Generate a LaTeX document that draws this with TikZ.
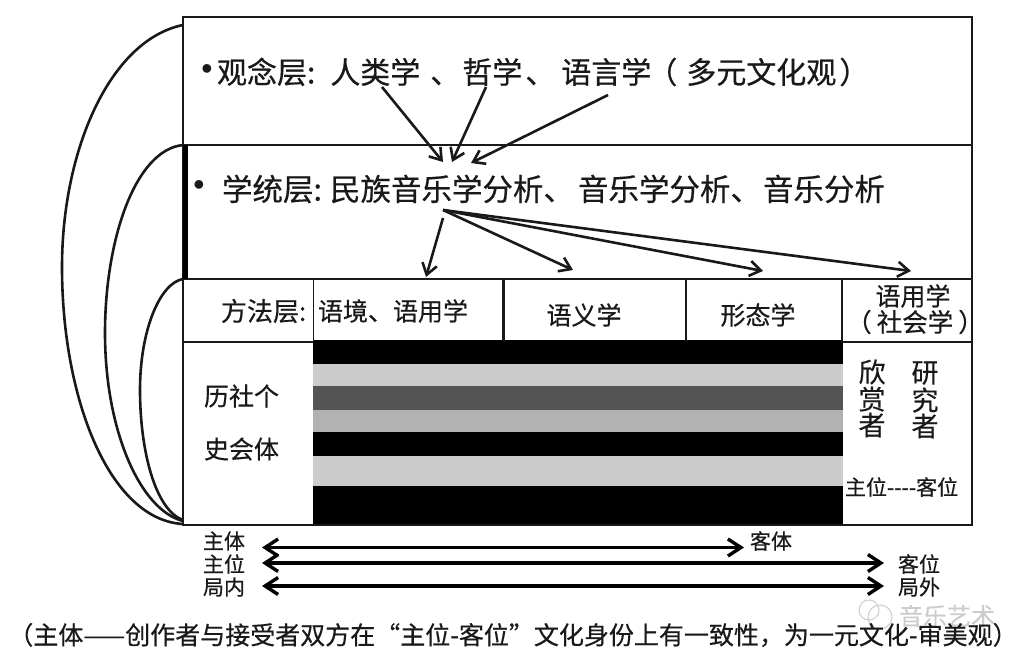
\documentclass[tikz,border=0pt]{standalone}
\usepackage{fontspec}
\usetikzlibrary{arrows.meta}
\setmainfont{Noto Sans CJK SC}[RawFeature={embolden=0.5}]
\newfontfamily\bulletfont{Liberation Sans}
\definecolor{stripelight}{gray}{0.80}
\definecolor{stripedark}{gray}{0.33}
\definecolor{stripemid}{gray}{0.70}
\definecolor{markgray}{gray}{0.80}
\newcommand{\fs}[1]{\fontsize{#1}{#1}\selectfont}
\tikzset{
  lab/.style={inner sep=0pt,outer sep=0pt,text=black!90},
  boxline/.style={line width=2.6pt,draw=black!90},
  cellline/.style={line width=2.2pt,draw=black!90},
  curveline/.style={line width=2.6pt,draw=black!90},
  upper/.style={line width=2.6pt,draw=black!90,-{Straight Barb[length=11pt,width=15pt,line width=2.6pt]}},
  span/.style={line width=3.2pt,draw=black,{Straight Barb[length=13pt,width=17pt,line width=3.4pt]}-{Straight Barb[length=13pt,width=17pt,line width=3.4pt]}}
}
\begin{document}
\begin{tikzpicture}[x=1pt,y=-1pt]
\useasboundingbox (0,0) rectangle (1031,662);
% stripes
\fill[black] (313,340) rectangle (843,364);
\fill[stripelight] (313,364) rectangle (843,386);
\fill[stripedark] (313,386) rectangle (843,410);
\fill[stripemid] (313,410) rectangle (843,432);
\fill[black] (313,432) rectangle (843,456);
\fill[stripelight] (313,456) rectangle (843,486);
\fill[black] (313,486) rectangle (843,526);
% frame
\draw[boxline] (183,17) rectangle (972,525);
\draw[boxline] (183,145) -- (972,145);
\draw[boxline] (183,279) -- (972,279);
\draw[boxline] (183,342) -- (313,342);
\draw[boxline] (842,342) -- (972,342);
\fill[black] (183,145) rectangle (188,279);
\draw[line width=1pt,draw=black!90] (313,279) -- (313,342);
\draw[cellline] (503.5,279) -- (503.5,341);
\draw[cellline] (686,279) -- (686,341);
\draw[cellline] (842,279) -- (842,342);
% anchors
\coordinate (c1a) at (183,25); \coordinate (c2a) at (183,145); \coordinate (c3a) at (183,279);
\coordinate (c1b) at (183,524); \coordinate (c2b) at (183,521); \coordinate (c3b) at (183,520);
\draw[curveline] (c1a) .. controls (110,40) and (62,150) .. (62,267) .. controls (62,400) and (110,520) .. (c1b);
\draw[curveline] (c2a) .. controls (135,150) and (105,240) .. (105,333) .. controls (105,430) and (140,510) .. (c2b);
\draw[curveline] (c3a) .. controls (160,283) and (140,330) .. (140,390) .. controls (140,450) and (155,510) .. (c3b);
% labels
\node[lab] (bul1) at (207,72) {\bulletfont\fs{32}•};
\node[lab] (bul2) at (199,188) {\bulletfont\fs{32}•};
\node[lab,anchor=west] (idea) at (217,72) {\fs{30}观念层:\hspace{15pt}人类学\hspace{10pt}、\hspace{2pt}哲学\hspace{3pt}、\hspace{6pt}语言学\hspace{-4pt}（\hspace{9pt}多元文化观\hspace{3pt}）};
\node[lab,anchor=west] (school) at (222,189) {\fs{30.5}学统层:\hspace{8pt}民族音乐学分析、\hspace{4pt}音乐学分析、\hspace{2pt}音乐分析};
\node[lab,anchor=west] (method) at (221,311) {\fs{26}方法层:};
\node[lab,anchor=west] (context) at (318,311) {\fs{25}语境、语用学};
\node[lab,anchor=center] (semantic) at (584,315) {\fs{25}语义学};
\node[lab,anchor=center] (morph) at (758,315) {\fs{25}形态学};
\node[lab,anchor=center] (prag) at (913,296) {\fs{25}语用学};
\node[lab,anchor=center] (social) at (915,322) {\fs{25.5}（\hspace{5pt}社会学\hspace{5pt}）};
\node[lab,anchor=west] (hsg) at (204,396) {\fs{25}历社个};
\node[lab,anchor=west] (sht) at (204,449) {\fs{25}史会体};
\node[lab,anchor=center] (a1) at (872,372) {\fs{27}欣};
\node[lab,anchor=center] (a2) at (872,399) {\fs{27}赏};
\node[lab,anchor=center] (a3) at (872,425) {\fs{27}者};
\node[lab,anchor=center] (b1) at (925,373) {\fs{27}研};
\node[lab,anchor=center] (b2) at (925,400) {\fs{27}究};
\node[lab,anchor=center] (b3) at (925,426) {\fs{27}者};
\node[lab,anchor=west] (emic) at (845,487) {\fs{21}主位-{}-{}-{}-客位};
\node[lab,anchor=west] (l1) at (203,541) {\fs{21}主体};
\node[lab,anchor=west] (l2) at (203,564) {\fs{21}主位};
\node[lab,anchor=west] (l3) at (203,587) {\fs{21}局内};
\node[lab,anchor=west] (r1) at (750,541) {\fs{21}客体};
\node[lab,anchor=west] (r2) at (898,564) {\fs{21}客位};
\node[lab,anchor=west] (r3) at (898,587) {\fs{21}局外};
% watermark
\draw[markgray,line width=1pt] (869,610) circle (10pt);
\draw[markgray,line width=1pt] (880,617) circle (12pt);
\node[lab,anchor=west,text=markgray] (mark) at (899,616) {\fs{24}音乐艺术};
\node[lab,anchor=center] (caption) at (513,635) {\fs{25}（主体——创作者与接受者双方在“主位-客位”文化身份上有一致性，为一元文化-审美观）};
% arrows
\coordinate (i1) at (382,87); \coordinate (i1t) at (443,162);
\coordinate (i2) at (486,87); \coordinate (i2t) at (452,162);
\coordinate (i3) at (608,95); \coordinate (i3t) at (471,163);
\draw[upper] (i1) -- (i1t);
\draw[upper] (i2) -- (i2t);
\draw[upper] (i3) -- (i3t);
\coordinate (s0) at (443,210);
\coordinate (s1) at (443,218); \coordinate (s1t) at (426,277);
\coordinate (s2t) at (573,270); \coordinate (s3t) at (763,271); \coordinate (s4t) at (911,271);
\draw[upper] (s1) -- (s1t);
\draw[upper] (s0) -- (s2t);
\draw[upper] (s0) -- (s3t);
\draw[upper] (s0) -- (s4t);
\coordinate (sp1) at (262,547.5); \coordinate (sp1t) at (744,547.5);
\coordinate (sp2) at (262,563); \coordinate (sp2t) at (884,563);
\coordinate (sp3) at (262,586); \coordinate (sp3t) at (884,586);
\draw[span] (sp1) -- (sp1t);
\draw[span] (sp2) -- (sp2t);
\draw[span] (sp3) -- (sp3t);
\end{tikzpicture}
\end{document}
